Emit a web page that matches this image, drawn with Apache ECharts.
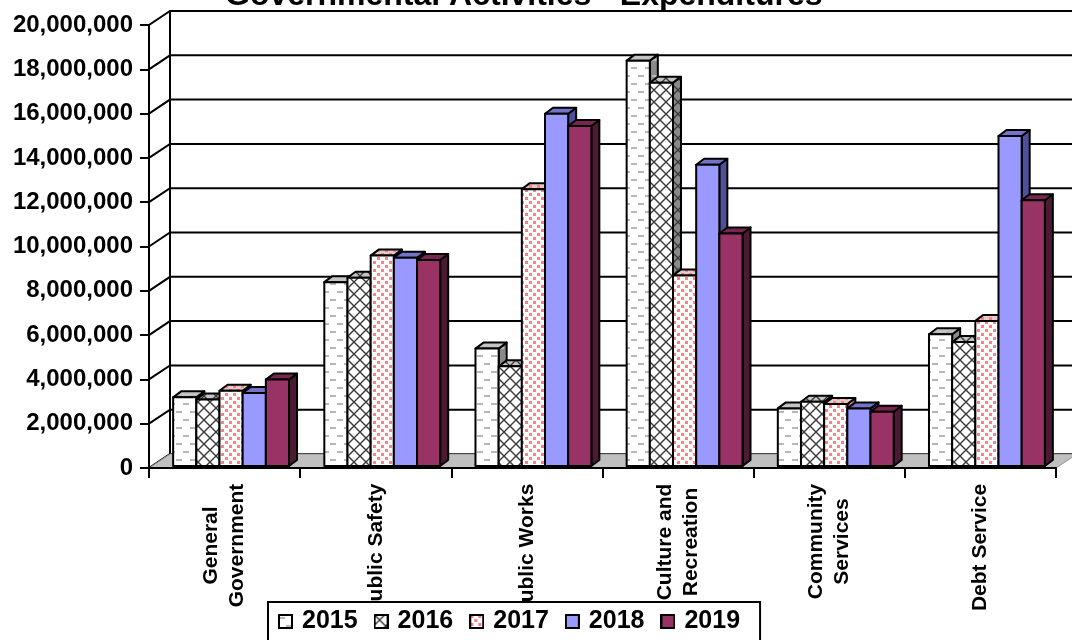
<!DOCTYPE html>
<html>
<head>
<meta charset="utf-8">
<script src="https://cdn.jsdelivr.net/npm/echarts@6/dist/echarts.min.js"></script>
<style>
html,body{margin:0;padding:0;background:#fff;}
#main{width:1072px;height:640px;}
</style>
</head>
<body>
<div id="main"></div>
<script>
var categories = ['General\nGovernment', 'Public Safety', 'Public Works', 'Culture and\nRecreation', 'Community\nServices', 'Debt Service'];
var years = ['2015', '2016', '2017', '2018', '2019'];
var y2015 = [3100000, 8300000, 5300000, 18300000, 2600000, 5950000];
var y2016 = [3000000, 8500000, 4500000, 17300000, 2900000, 5600000];
var y2017 = [3400000, 9500000, 12500000, 8600000, 2800000, 6550000];
var y2018 = [3300000, 9400000, 15900000, 13600000, 2600000, 14900000];
var y2019 = [3900000, 9300000, 15350000, 10500000, 2450000, 12000000];
var yTicks = [0, 2000000, 4000000, 6000000, 8000000, 10000000, 12000000, 14000000, 16000000, 18000000, 20000000];

var FONT = '"Liberation Sans", Arial, sans-serif';
// depth of the back wall and of each column
var DX = 21, DY = -14;
var BDX = 8, BDY = -6;

// fill tiles, like the excel patterns
function tile(kind, bg){
	var c = document.createElement('canvas');
	var ctx = c.getContext('2d');
	if(kind=='dash'){
		c.width = 14; c.height = 16;
		ctx.fillStyle = bg; ctx.fillRect(0,0,14,16);
		ctx.fillStyle = '#b8b8b8';
		ctx.fillRect(1,3,6,2);
		ctx.fillRect(8,11,6,2);
	}else if(kind=='cross'){
		c.width = 12; c.height = 12;
		ctx.fillStyle = bg; ctx.fillRect(0,0,12,12);
		ctx.strokeStyle = '#3a3a3a'; ctx.lineWidth = 1.4;
		ctx.beginPath();
		ctx.moveTo(0,0); ctx.lineTo(12,12);
		ctx.moveTo(12,0); ctx.lineTo(0,12);
		ctx.stroke();
	}else if(kind=='dots'){
		c.width = 8; c.height = 8;
		ctx.fillStyle = bg; ctx.fillRect(0,0,8,8);
		ctx.fillStyle = '#ff8080';
		ctx.fillRect(1,1,3,3);
		ctx.fillRect(5,5,3,3);
	}else{
		c.width = 4; c.height = 4;
		ctx.fillStyle = bg; ctx.fillRect(0,0,4,4);
	}
	return c;
}
function pat(kind, bg){
	if(kind=='solid') return bg;
	return {image: tile(kind, bg), repeat: 'repeat'};
}
function legendIcon(kind, bg){
	var c = document.createElement('canvas');
	c.width = 15; c.height = 15;
	var ctx = c.getContext('2d');
	ctx.fillStyle = ctx.createPattern(tile(kind, bg), 'repeat');
	ctx.fillRect(0,0,15,15);
	ctx.strokeStyle = '#000'; ctx.lineWidth = 2;
	ctx.strokeRect(1,1,13,13);
	return 'image://' + c.toDataURL();
}

var looks = [
	{kind:'dash',  front:'#ffffff', top:'#c4c4c4', side:'#8a8a8a'},
	{kind:'cross', front:'#ffffff', top:'#c4c4c4', side:'#8a8a8a'},
	{kind:'dots',  front:'#ffffff', top:'#e6c8c8', side:'#a07070'},
	{kind:'solid', front:'#9999ff', top:'#7373c8', side:'#50509a'},
	{kind:'solid', front:'#993366', top:'#772650', side:'#4c1a33'}
];
var allYears = [y2015, y2016, y2017, y2018, y2019];

function fmt(v){
	return String(v).replace(/\B(?=(\d{3})+(?!\d))/g, ',');
}

// category labels: lines centred inside the label block
var mctx = document.createElement('canvas').getContext('2d');
mctx.font = 'bold 21px ' + FONT;
var rich = {};
for(var i=0;i<categories.length;i++){
	var w = 0;
	categories[i].split('\n').forEach(function(s){
		w = Math.max(w, mctx.measureText(s).width);
	});
	rich['c'+i] = {width: Math.ceil(w)+1, align:'center', fontSize:21, fontWeight:'bold', fontFamily:FONT, color:'#000', lineHeight:26};
}

function renderWall(params, api){
	var cs = params.coordSys;
	var p = api.coord([0, api.value(1)]);
	var x = cs.x;
	var right = cs.x + cs.width + DX + 20;
	var kids = [{
		type:'polyline',
		shape:{points:[[x, p[1]], [x+DX, p[1]+DY], [right, p[1]+DY]]},
		style:{stroke:'#000', lineWidth:2, fill:null}
	}];
	if(params.dataIndex==0){
		var t = api.coord([0, yTicks[yTicks.length-1]]);
		kids.push({
			type:'line',
			shape:{x1:x+DX, y1:p[1]+DY, x2:x+DX, y2:t[1]+DY},
			style:{stroke:'#000', lineWidth:2}
		});
	}
	return {type:'group', children:kids};
}

function renderFloor(params, api){
	var cs = params.coordSys;
	var p = api.coord([0, 0]);
	var x = cs.x, xr = cs.x + cs.width;
	return {
		type:'polygon',
		shape:{points:[[x, p[1]], [x+DX, p[1]+DY], [xr+DX+20, p[1]+DY], [xr+DX, p[1]+DY], [xr, p[1]]]},
		style:{fill:'#c0c0c0', stroke:'#909090', lineWidth:1}
	};
}

function makeBar(k){
	var look = looks[k];
	var front = pat(look.kind, look.front);
	var top = pat(look.kind, look.top);
	var side = pat(look.kind, look.side);
	return function(params, api){
		var cat = api.value(0);
		var base = api.coord([cat, 0]);
		var tp = api.coord([cat, api.value(1)]);
		var band = api.size([1, 0])[0];
		var bw = band * 0.1533;
		var center = base[0] + band * 0.043;
		var xl = center - 2.5*bw + k*bw;
		var yb = base[1] - 2, yt = tp[1] - 2;
		var line = {stroke:'#000', lineWidth:2, lineJoin:'round'};
		return {type:'group', children:[
			{type:'polygon', shape:{points:[[xl+bw, yt], [xl+bw+BDX, yt+BDY], [xl+bw+BDX, yb+BDY], [xl+bw, yb]]},
			 style:Object.assign({fill:side}, line)},
			{type:'polygon', shape:{points:[[xl, yt], [xl+BDX, yt+BDY], [xl+bw+BDX, yt+BDY], [xl+bw, yt]]},
			 style:Object.assign({fill:top}, line)},
			{type:'rect', shape:{x:xl, y:yt, width:bw, height:yb-yt},
			 style:Object.assign({fill:front}, line)}
		]};
	};
}

var series = [
	{type:'custom', name:'wall', renderItem:renderWall, data:yTicks.map(function(v){return [0, v];}), silent:true},
	{type:'custom', name:'floor', renderItem:renderFloor, data:[[0, 0]], silent:true}
];
var legendData = [];
for(var k=0;k<years.length;k++){
	series.push({
		type:'custom',
		name:years[k],
		renderItem:makeBar(k),
		data:allYears[k].map(function(v, i){return [i, v];})
	});
	legendData.push({name:years[k], icon:legendIcon(looks[k].kind, looks[k].front)});
}

var myChart = echarts.init(document.getElementById('main'));
option = {
	animation:false,
	backgroundColor:'#fff',
	title:{
		text:'Governmental Activities - Expenditures',
		left:225,
		top:-20,
		padding:0,
		textStyle:{fontSize:32, fontWeight:'bold', fontFamily:FONT, color:'#000'}
	},
	legend:{
		data:legendData,
		left:268,
		top:602,
		z:10,
		orient:'horizontal',
		itemWidth:15,
		itemHeight:15,
		itemGap:16,
		padding:[7, 20, 20, 10],
		backgroundColor:'#fff',
		borderColor:'#000',
		borderWidth:2,
		borderRadius:0,
		textStyle:{fontSize:25, fontWeight:'bold', fontFamily:FONT, color:'#000', padding:[0,0,0,4]}
	},
	grid:{left:149, right:16, top:25, bottom:172, containLabel:false, outerBoundsMode:'none'},
	xAxis:{
		type:'category',
		data:categories,
		z:5,
		axisLine:{show:true, lineStyle:{color:'#000', width:2}},
		axisTick:{show:true, interval:0, length:10, lineStyle:{color:'#000', width:2}},
		axisLabel:{
			interval:0,
			rotate:90,
			margin:15,
			fontSize:21,
			fontWeight:'bold',
			fontFamily:FONT,
			color:'#000',
			formatter:function(v, idx){
				return v.split('\n').map(function(s){return '{c'+idx+'|'+s+'}';}).join('\n');
			},
			rich:rich
		},
		splitLine:{show:false}
	},
	yAxis:{
		type:'value',
		min:0,
		max:20000000,
		interval:2000000,
		z:5,
		axisLine:{show:true, lineStyle:{color:'#000', width:2}},
		axisTick:{show:true, length:9, lineStyle:{color:'#000', width:2}},
		axisLabel:{margin:16, fontSize:24, fontWeight:'bold', fontFamily:FONT, color:'#000', formatter:fmt},
		splitLine:{show:false}
	},
	series:series
};
myChart.setOption(option);
</script>
</body>
</html>
